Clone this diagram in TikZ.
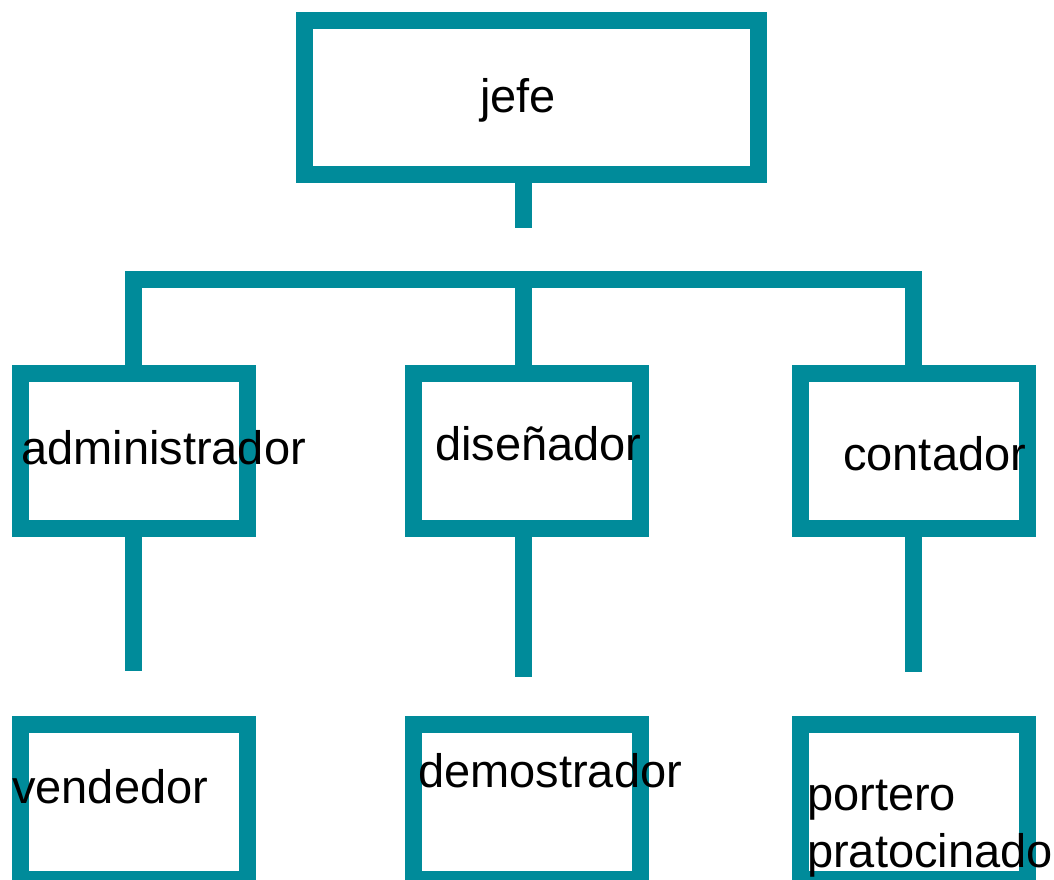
\documentclass[tikz,border=0pt]{standalone}
\usepackage{fontspec}
\setmainfont{Liberation Sans}
\definecolor{T1}{RGB}{0,139,154}

\begin{document}
\begin{tikzpicture}[x=1pt, y=-1pt,
    caja/.style={draw=T1, line width=17pt, rectangle, inner sep=0pt,
                 minimum width=227pt, minimum height=155pt},
    texto/.style={anchor=base west, inner sep=0pt, align=left,
                  font=\fontsize{47}{57}\selectfont},
    linea/.style={draw=T1, line width=17pt}]
  \useasboundingbox (0,0) rectangle (1054,879);
  % cajas
  \node[caja, minimum width=454.5pt, minimum height=154pt] (jefe) at (531.25, 97) {};
  \node[caja] (admin) at (133.75, 450.5) {};
  \node[caja] (dis)   at (527, 450.5) {};
  \node[caja] (cont)  at (913.75, 450.5) {};
  \node[caja] (vend)  at (133.75, 801.5) {};
  \node[caja] (demo)  at (527, 801.5) {};
  \node[caja] (port)  at (913.75, 801.5) {};
  % lineas
  \coordinate (jefe-pie) at (523.5, 228);
  \coordinate (barra) at (523.5, 279);
  \coordinate (admin-pie) at (133.75, 671);
  \coordinate (dis-pie) at (523.5, 677);
  \coordinate (cont-pie) at (913.75, 672);
  \draw[linea] (jefe.south -| jefe-pie) -- (jefe-pie);
  \draw[linea] (admin.north) |- (barra) -| (cont.north);
  \draw[linea] (barra) -- (dis.north -| barra);
  \draw[linea] (admin.south) -- (admin-pie);
  \draw[linea] (dis.south -| dis-pie) -- (dis-pie);
  \draw[linea] (cont.south) -- (cont-pie);
  % textos
  \node[texto] (t-jefe)  at (480, 112) {jefe};
  \node[texto] (t-admin) at (21, 464) {administrador};
  \node[texto] (t-dis)   at (435, 460) {diseñador};
  \node[texto] (t-cont)  at (843, 470) {contador};
  \node[texto] (t-vend)  at (12, 803) {vendedor};
  \node[texto] (t-demo)  at (418, 787) {demostrador};
  \node[texto] (t-port)  at (807, 867) {portero\\pratocinado};
\end{tikzpicture}
\end{document}
